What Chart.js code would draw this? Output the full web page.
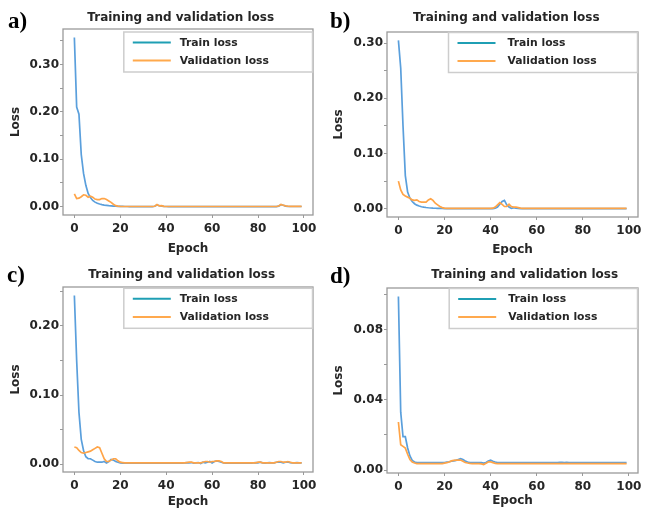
<!DOCTYPE html>
<html><head><meta charset="utf-8">
<script src="https://cdn.jsdelivr.net/npm/chart.js@4/dist/chart.umd.min.js"></script>
<style>
html,body{margin:0;padding:0;background:#fff;}
#wrap{position:relative;width:646px;height:511px;overflow:hidden;background:#fff;}
canvas{position:absolute;}
.lab{position:absolute;font-family:"Liberation Serif","Times New Roman",serif;font-weight:bold;font-size:23px;line-height:23px;color:#000;white-space:nowrap;}
</style></head><body>
<div id="wrap">
<canvas id="cA" width="323" height="255" style="left:0px;top:0px"></canvas>
<canvas id="cB" width="323" height="255" style="left:323px;top:0px"></canvas>
<canvas id="cC" width="323" height="256" style="left:0px;top:255px"></canvas>
<canvas id="cD" width="323" height="256" style="left:323px;top:255px"></canvas>
<div class="lab" style="left:8px;top:9px">a)</div>
<div class="lab" style="left:330px;top:9px">b)</div>
<div class="lab" style="left:7px;top:263px">c)</div>
<div class="lab" style="left:330px;top:264px">d)</div>
</div>
<script>
// ---- data ----
const epochs = Array.from({length: 100}, (_, i) => i);
const xTicks = [0, 20, 40, 60, 80, 100];
const seriesNames = ['Train loss', 'Validation loss'];
const panelTitle = 'Training and validation loss';
const xTitle = 'Epoch';
const yTitle = 'Loss';

const trainA = [0.357,0.210,0.195,0.110,0.070,0.045,0.028,0.019,0.013,0.0095,
0.0070,0.0055,0.0042,0.0033,0.0026,0.0020,0.0016,0.0012,0.0009,0.0007,
0.0005,0.0004,0.0003,0.0003,0.0002,0.0002,0.0002,0.0002,0.0002,0.0002,
0.0002,0.0002,0.0002,0.0002,0.0002,0.0008,0.0035,0.0020,0.0008,0.0004,
0.0003,0.0002,0.0002,0.0002,0.0002,0.0002,0.0002,0.0002,0.0002,0.0002,
0.0002,0.0002,0.0002,0.0002,0.0002,0.0002,0.0002,0.0002,0.0002,0.0002,
0.0002,0.0002,0.0002,0.0002,0.0002,0.0002,0.0002,0.0002,0.0002,0.0002,
0.0002,0.0002,0.0002,0.0002,0.0002,0.0002,0.0002,0.0002,0.0002,0.0002,
0.0002,0.0002,0.0002,0.0002,0.0002,0.0002,0.0002,0.0002,0.0002,0.0010,
0.0040,0.0030,0.0012,0.0005,0.0003,0.0003,0.0003,0.0003,0.0003,0.0003];
const valA = [0.027,0.017,0.018,0.021,0.025,0.024,0.020,0.022,0.020,0.016,
0.015,0.015,0.017,0.017,0.015,0.012,0.009,0.005,0.002,0.001,
0.0005,0.0003,0.0003,0.0003,0.0003,0.0003,0.0003,0.0003,0.0003,0.0003,
0.0003,0.0003,0.0003,0.0003,0.0003,0.0008,0.0045,0.0015,0.0020,0.0005,
0.0003,0.0003,0.0003,0.0003,0.0003,0.0003,0.0003,0.0003,0.0003,0.0003,
0.0003,0.0003,0.0003,0.0003,0.0003,0.0003,0.0003,0.0003,0.0003,0.0003,
0.0003,0.0003,0.0003,0.0003,0.0003,0.0003,0.0003,0.0003,0.0003,0.0003,
0.0003,0.0003,0.0003,0.0003,0.0003,0.0003,0.0003,0.0003,0.0003,0.0003,
0.0003,0.0003,0.0003,0.0003,0.0003,0.0003,0.0003,0.0003,0.0003,0.0012,
0.0045,0.0030,0.0015,0.0008,0.0004,0.0004,0.0004,0.0004,0.0004,0.0004];

const trainB = [0.305,0.255,0.150,0.060,0.030,0.019,0.013,0.009,0.0065,0.0048,
0.0036,0.0028,0.0022,0.0017,0.0013,0.0010,0.0008,0.0006,0.0005,0.0004,
0.0003,0.0002,0.0002,0.0002,0.0002,0.0002,0.0002,0.0002,0.0002,0.0002,
0.0002,0.0002,0.0002,0.0002,0.0002,0.0002,0.0002,0.0002,0.0002,0.0002,
0.0002,0.0002,0.0008,0.0030,0.0080,0.0130,0.0150,0.0070,0.0030,0.0005,
0.0020,0.0012,0.0006,0.0002,0.0002,0.0002,0.0002,0.0002,0.0002,0.0002,
0.0002,0.0002,0.0002,0.0002,0.0002,0.0002,0.0002,0.0002,0.0002,0.0002,
0.0002,0.0002,0.0002,0.0002,0.0002,0.0002,0.0002,0.0002,0.0002,0.0002,
0.0002,0.0002,0.0002,0.0002,0.0002,0.0002,0.0002,0.0002,0.0002,0.0002,
0.0002,0.0002,0.0002,0.0002,0.0002,0.0002,0.0002,0.0002,0.0002,0.0002];
const valB = [0.050,0.034,0.026,0.023,0.021,0.019,0.016,0.015,0.016,0.013,
0.012,0.012,0.012,0.016,0.018,0.015,0.010,0.007,0.004,0.002,
0.0010,0.0005,0.0005,0.0005,0.0005,0.0005,0.0005,0.0005,0.0005,0.0005,
0.0005,0.0005,0.0005,0.0005,0.0005,0.0005,0.0005,0.0005,0.0005,0.0005,
0.0005,0.0010,0.0030,0.0070,0.0110,0.0080,0.0040,0.0040,0.0080,0.0040,
0.0030,0.0030,0.0020,0.0010,0.0005,0.0005,0.0005,0.0005,0.0005,0.0005,
0.0005,0.0005,0.0005,0.0005,0.0005,0.0005,0.0005,0.0005,0.0005,0.0005,
0.0005,0.0005,0.0005,0.0005,0.0005,0.0005,0.0005,0.0005,0.0005,0.0005,
0.0005,0.0005,0.0005,0.0005,0.0005,0.0005,0.0005,0.0005,0.0005,0.0005,
0.0005,0.0005,0.0005,0.0005,0.0005,0.0005,0.0005,0.0005,0.0005,0.0005];

const trainC = [0.244,0.150,0.075,0.036,0.020,0.011,0.008,0.008,0.006,0.004,
0.003,0.003,0.003,0.004,0.002,0.004,0.007,0.006,0.004,0.003,
0.0020,0.0018,0.0016,0.0015,0.0015,0.0015,0.0015,0.0015,0.0015,0.0015,
0.0015,0.0015,0.0015,0.0015,0.0015,0.0015,0.0015,0.0015,0.0015,0.0015,
0.0015,0.0015,0.0015,0.0015,0.0015,0.0015,0.0015,0.0015,0.0020,0.0025,
0.0020,0.0025,0.0015,0.0020,0.0025,0.0010,0.0030,0.0020,0.0030,0.0040,
0.0020,0.0040,0.0050,0.0040,0.0030,0.0020,0.0015,0.0015,0.0015,0.0015,
0.0015,0.0015,0.0015,0.0015,0.0015,0.0015,0.0015,0.0015,0.0020,0.0025,
0.0020,0.0030,0.0020,0.0015,0.0020,0.0025,0.0020,0.0020,0.0030,0.0035,
0.0030,0.0020,0.0030,0.0035,0.0025,0.0020,0.0020,0.0025,0.0020,0.0020];
const valC = [0.025,0.024,0.020,0.017,0.016,0.017,0.018,0.019,0.021,0.023,
0.025,0.024,0.016,0.008,0.004,0.004,0.006,0.008,0.008,0.005,
0.0030,0.0025,0.0020,0.0020,0.0020,0.0020,0.0020,0.0020,0.0020,0.0020,
0.0020,0.0020,0.0020,0.0020,0.0020,0.0020,0.0020,0.0020,0.0020,0.0020,
0.0020,0.0020,0.0020,0.0020,0.0020,0.0020,0.0020,0.0020,0.0020,0.0025,
0.0030,0.0030,0.0020,0.0020,0.0020,0.0020,0.0030,0.0040,0.0040,0.0030,
0.0040,0.0040,0.0050,0.0050,0.0040,0.0020,0.0020,0.0020,0.0020,0.0020,
0.0020,0.0020,0.0020,0.0020,0.0020,0.0020,0.0020,0.0020,0.0020,0.0020,
0.0030,0.0030,0.0020,0.0020,0.0020,0.0020,0.0020,0.0020,0.0030,0.0040,
0.0040,0.0030,0.0030,0.0040,0.0030,0.0020,0.0020,0.0020,0.0020,0.0020];

const trainD = [0.099,0.033,0.019,0.019,0.0126,0.0080,0.0055,0.0046,0.0043,0.0042,
0.0042,0.0042,0.0042,0.0042,0.0042,0.0042,0.0042,0.0042,0.0042,0.0042,
0.0043,0.0045,0.0047,0.0050,0.0052,0.0055,0.0060,0.0065,0.0060,0.0052,
0.0046,0.0043,0.0042,0.0042,0.0042,0.0042,0.0042,0.0040,0.0043,0.0052,
0.0056,0.0050,0.0046,0.0043,0.0042,0.0042,0.0042,0.0042,0.0042,0.0042,
0.0042,0.0042,0.0042,0.0042,0.0042,0.0042,0.0042,0.0042,0.0042,0.0042,
0.0042,0.0042,0.0042,0.0042,0.0042,0.0042,0.0042,0.0042,0.0043,0.0043,
0.0044,0.0044,0.0043,0.0044,0.0043,0.0042,0.0042,0.0042,0.0042,0.0042,
0.0042,0.0042,0.0042,0.0042,0.0042,0.0042,0.0042,0.0042,0.0042,0.0042,
0.0042,0.0042,0.0042,0.0042,0.0042,0.0042,0.0042,0.0042,0.0042,0.0042];
const valD = [0.0274,0.0144,0.0135,0.0125,0.0090,0.0060,0.0046,0.0040,0.0037,0.0037,
0.0037,0.0037,0.0037,0.0037,0.0037,0.0037,0.0037,0.0037,0.0037,0.0037,
0.0039,0.0042,0.0046,0.0052,0.0055,0.0056,0.0056,0.0057,0.0050,0.0043,
0.0040,0.0038,0.0037,0.0037,0.0037,0.0037,0.0035,0.0031,0.0038,0.0046,
0.0046,0.0042,0.0038,0.0037,0.0037,0.0037,0.0037,0.0037,0.0037,0.0037,
0.0037,0.0037,0.0037,0.0037,0.0037,0.0037,0.0037,0.0037,0.0037,0.0037,
0.0037,0.0037,0.0037,0.0037,0.0037,0.0037,0.0037,0.0037,0.0037,0.0037,
0.0037,0.0037,0.0037,0.0037,0.0037,0.0037,0.0037,0.0037,0.0037,0.0037,
0.0037,0.0037,0.0037,0.0037,0.0037,0.0037,0.0037,0.0037,0.0037,0.0037,
0.0037,0.0037,0.0037,0.0037,0.0037,0.0037,0.0037,0.0037,0.0037,0.0037];

// ---- styling ----
const TEXT = '#262626';
const FONT = 'DejaVu Sans';
const TRAIN_LINE = '#5a9fdc', TRAIN_KEY = '#1f9fb4';
const VAL_LINE = '#ffa447', VAL_KEY = '#ffa94d';

const panelDecor = {
  id: 'panelDecor',
  afterDatasetsDraw(chart) {
    const o = chart.options.plugins.panelDecor;
    const a = chart.chartArea, ctx = chart.ctx;
    ctx.save();
    // frame
    ctx.strokeStyle = '#9a9a9a';
    ctx.lineWidth = 1.3;
    ctx.strokeRect(a.left, a.top, a.right - a.left, a.bottom - a.top);
    // legend
    const lx = a.right - o.legRight - o.legW, ly = a.top + o.legTop;
    ctx.fillStyle = 'rgba(255,255,255,0.92)';
    ctx.fillRect(lx, ly, o.legW, o.legH);
    ctx.strokeStyle = '#cdcdcd';
    ctx.lineWidth = 1.5;
    ctx.strokeRect(lx, ly, o.legW, o.legH);
    ctx.font = 'bold 10.8px "' + FONT + '"';
    ctx.textBaseline = 'middle';
    ctx.textAlign = 'left';
    chart.data.datasets.forEach((ds, i) => {
      const cy = ly + o.rowY[i];
      ctx.strokeStyle = ds.keyColor;
      ctx.lineWidth = 2;
      ctx.beginPath();
      ctx.moveTo(lx + 9, cy);
      ctx.lineTo(lx + 47, cy);
      ctx.stroke();
      ctx.fillStyle = TEXT;
      ctx.fillText(ds.label, lx + o.textX, cy + 0.5);
    });
    ctx.restore();
  },
  afterDraw(chart) {
    const o = chart.options.plugins.panelDecor;
    const ctx = chart.ctx;
    ctx.save();
    ctx.font = 'bold 12px "' + FONT + '"';
    ctx.fillStyle = TEXT;
    ctx.textAlign = 'center';
    ctx.textBaseline = 'alphabetic';
    ctx.fillText(o.title, o.titleX, o.titleY);
    ctx.restore();
  }
};

function fmt(v) { return Math.abs(v) < 1e-9 ? '0.00' : v.toFixed(2); }

function makePanel(id, train, val, s) {
  const all = train.concat(val);
  const lo = Math.min(...all), hi = Math.max(...all);
  const pad = (hi - lo) * 0.05;
  const tickFont = {family: FONT, weight: 'bold', size: 12};
  const grid = {display: true, drawOnChartArea: false, drawTicks: true, tickLength: 3, color: '#999', lineWidth: 1};
  new Chart(document.getElementById(id), {
    type: 'line',
    data: {
      datasets: [
        {label: seriesNames[0], data: epochs.map((e, i) => ({x: e, y: train[i]})),
         borderColor: TRAIN_LINE, keyColor: TRAIN_KEY, borderWidth: 1.7, pointRadius: 0, tension: 0, fill: false, order: 1},
        {label: seriesNames[1], data: epochs.map((e, i) => ({x: e, y: val[i]})),
         borderColor: VAL_LINE, keyColor: VAL_KEY, borderWidth: 1.7, pointRadius: 0, tension: 0, fill: false, order: 0}
      ]
    },
    options: {
      responsive: false, animation: false, devicePixelRatio: 1,
      layout: {padding: {left: 0, top: s.top, right: s.right, bottom: 0}},
      plugins: {
        legend: {display: false}, tooltip: {enabled: false}, title: {display: false},
        panelDecor: {title: panelTitle, titleX: s.titleX, titleY: s.titleY,
          legW: s.legW, legH: 40, legTop: s.legTop, legRight: 0.5, rowY: [10.5, 28.6], textX: s.textX}
      },
      scales: {
        x: {
          type: 'linear', min: -4.95, max: 103.95,
          afterFit(sc) { sc.height = s.xH; },
          afterBuildTicks(sc) { sc.ticks = xTicks.map(v => ({value: v})); },
          ticks: {padding: 4, maxRotation: 0, autoSkip: false, color: TEXT, font: tickFont,
                  callback: v => String(v)},
          grid: grid, border: {display: false},
          title: {display: true, text: xTitle, color: TEXT, font: tickFont, padding: {top: 0, bottom: s.xTitlePad}}
        },
        y: {
          type: 'linear', min: lo - pad, max: hi + pad,
          afterFit(sc) { sc.width = s.yW; },
          ticks: {stepSize: s.step, includeBounds: false, padding: 1, color: TEXT, font: tickFont,
                  callback: v => (Math.round(v / s.step) % 2 === 0 ? fmt(v) : '')},
          grid: grid, border: {display: false},
          title: {display: true, text: yTitle, color: TEXT, font: tickFont, padding: {top: 8.5, bottom: 0}}
        }
      }
    },
    plugins: [panelDecor]
  });
}

makePanel('cA', trainA, valA, {top: 29, right: 10, yW: 63, xH: 40, xTitlePad: -0.7, step: 0.05,
  titleX: 180.7, titleY: 20.5, legW: 188.7, legTop: 3, textX: 56});
makePanel('cB', trainB, valB, {top: 32, right: 8, yW: 64, xH: 38, xTitlePad: -2, step: 0.05,
  titleX: 183.3, titleY: 20.5, legW: 189, legTop: 0.5, textX: 59});
makePanel('cC', trainC, valC, {top: 32, right: 10, yW: 63, xH: 39, xTitlePad: 2, step: 0.05,
  titleX: 181.7, titleY: 23, legW: 188.7, legTop: 1.3, textX: 56});
makePanel('cD', trainD, valD, {top: 33, right: 8, yW: 64, xH: 38, xTitlePad: 2.9, step: 0.02,
  titleX: 201.7, titleY: 22.5, legW: 188.3, legTop: 0.5, textX: 59});
</script>
</body></html>
